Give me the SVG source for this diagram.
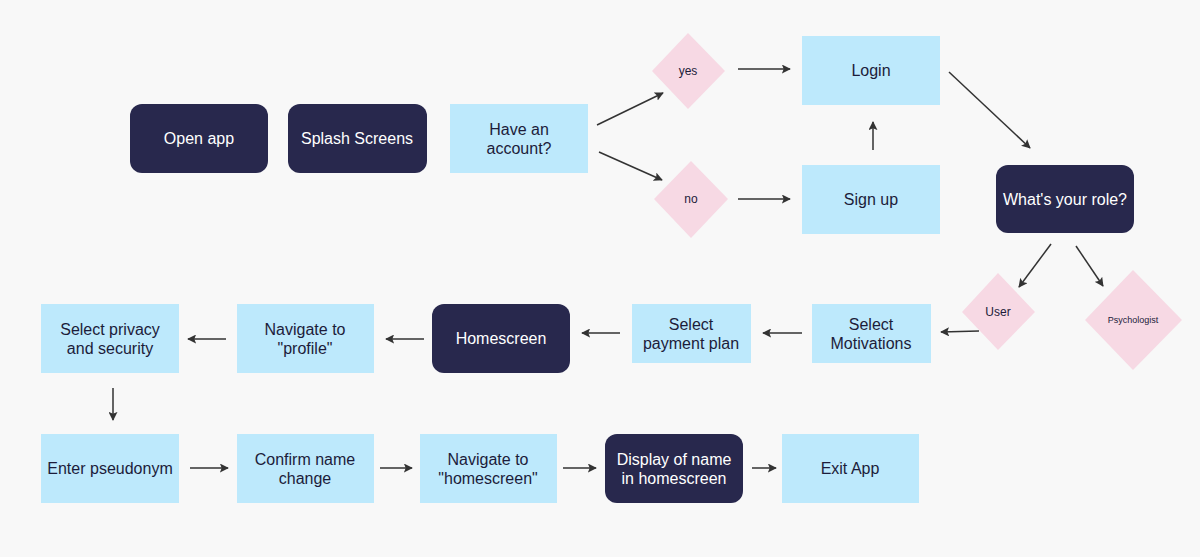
<svg xmlns="http://www.w3.org/2000/svg" width="1200" height="557" viewBox="0 0 1200 557">
<defs>
<marker id="ah" viewBox="0 0 10 10" refX="9" refY="5" markerWidth="9" markerHeight="9" markerUnits="userSpaceOnUse" orient="auto">
<path d="M0,0 L10,5 L0,10 L2,5 z" fill="#333"/>
</marker>
<style>
.dark{fill:#28284d;}
.light{fill:#bde9fc;}
.dia{fill:#f7d9e4;}
text{font-family:"Liberation Sans",Arial,sans-serif;font-size:16px;text-anchor:middle;}
.tw{fill:#ffffff;}
.tb{fill:#1c1c3a;}
.ts{font-size:12px;fill:#1c1c3a;}
.tx{font-size:9px;fill:#1c1c3a;}
.c{stroke:#333;stroke-width:1.5;fill:none;marker-end:url(#ah);}
</style>
</defs>
<rect width="1200" height="557" fill="#f8f8f8"/>
<g id="open"><rect class="dark" x="130" y="104" width="138" height="69" rx="12"/><text class="tw" x="199" y="144">Open app</text></g>
<g id="splash"><rect class="dark" x="288" y="104" width="139" height="69" rx="12"/><text class="tw" x="357" y="144">Splash Screens</text></g>
<g id="have"><rect class="light" x="450" y="104" width="138" height="69"/><text class="tb" x="519" y="135">Have an</text><text class="tb" x="519" y="154">account?</text></g>
<g id="yes"><polygon class="dia" points="688,33 725,71 688,109 652,71"/><text class="ts" x="688" y="75">yes</text></g>
<g id="no"><polygon class="dia" points="691,161 728,199 691,238 654,199"/><text class="ts" x="691" y="203">no</text></g>
<g id="login"><rect class="light" x="802" y="36" width="138" height="69"/><text class="tb" x="871" y="76">Login</text></g>
<g id="signup"><rect class="light" x="802" y="165" width="138" height="69"/><text class="tb" x="871" y="205">Sign up</text></g>
<g id="role"><rect class="dark" x="996" y="165" width="138" height="68" rx="12"/><text class="tw" x="1065" y="205">What's your role?</text></g>
<g id="user"><polygon class="dia" points="998,273 1035,312 998,350 962,312"/><text class="ts" x="998" y="316">User</text></g>
<g id="psych"><polygon class="dia" points="1133,270 1182,320 1133,370 1085,320"/><text class="tx" x="1133" y="323">Psychologist</text></g>
<g id="motiv"><rect class="light" x="812" y="304" width="119" height="59"/><text class="tb" x="871" y="330">Select</text><text class="tb" x="871" y="349">Motivations</text></g>
<g id="payment"><rect class="light" x="632" y="304" width="119" height="59"/><text class="tb" x="691" y="330">Select</text><text class="tb" x="691" y="349">payment plan</text></g>
<g id="home"><rect class="dark" x="432" y="304" width="138" height="69" rx="12"/><text class="tw" x="501" y="344">Homescreen</text></g>
<g id="navprofile"><rect class="light" x="237" y="304" width="137" height="69"/><text class="tb" x="305" y="335">Navigate to</text><text class="tb" x="305" y="354">"profile"</text></g>
<g id="privacy"><rect class="light" x="41" y="304" width="138" height="69"/><text class="tb" x="110" y="335">Select privacy</text><text class="tb" x="110" y="354">and security</text></g>
<g id="pseudo"><rect class="light" x="41" y="434" width="138" height="69"/><text class="tb" x="110" y="474">Enter pseudonym</text></g>
<g id="confirm"><rect class="light" x="237" y="434" width="137" height="69"/><text class="tb" x="305" y="465">Confirm name</text><text class="tb" x="305" y="484">change</text></g>
<g id="navhome"><rect class="light" x="420" y="434" width="137" height="69"/><text class="tb" x="488" y="465">Navigate to</text><text class="tb" x="488" y="484">"homescreen"</text></g>
<g id="display"><rect class="dark" x="605" y="434" width="138" height="69" rx="12"/><text class="tw" x="674" y="465">Display of name</text><text class="tw" x="674" y="484">in homescreen</text></g>
<g id="exit"><rect class="light" x="782" y="434" width="137" height="69"/><text class="tb" x="850" y="474">Exit App</text></g>
<g id="connectors">
<line class="c" x1="597" y1="125" x2="663" y2="93"/>
<line class="c" x1="599" y1="152" x2="662" y2="180"/>
<line class="c" x1="738" y1="69" x2="790" y2="69"/>
<line class="c" x1="738" y1="199" x2="790" y2="199"/>
<line class="c" x1="873" y1="150" x2="873" y2="122"/>
<line class="c" x1="949" y1="72" x2="1030" y2="148"/>
<line class="c" x1="1051" y1="244" x2="1019" y2="287"/>
<line class="c" x1="1076" y1="246" x2="1103" y2="286"/>
<line class="c" x1="979" y1="331" x2="941" y2="332"/>
<line class="c" x1="802" y1="333" x2="763" y2="333"/>
<line class="c" x1="620" y1="333" x2="582" y2="333"/>
<line class="c" x1="424" y1="339" x2="386" y2="339"/>
<line class="c" x1="226" y1="339" x2="188" y2="339"/>
<line class="c" x1="113" y1="388" x2="113" y2="420"/>
<line class="c" x1="190" y1="468" x2="228" y2="468"/>
<line class="c" x1="380" y1="468" x2="412" y2="468"/>
<line class="c" x1="563" y1="468" x2="596" y2="468"/>
<line class="c" x1="752" y1="468" x2="776" y2="468"/>
</g>
</svg>
